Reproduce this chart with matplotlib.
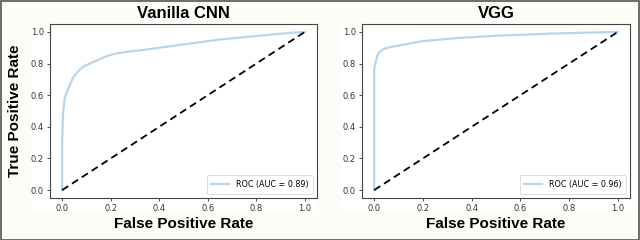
import matplotlib.pyplot as plt
from matplotlib.patches import Rectangle

# ROC points
cnn_fpr = [0.0, 0.0, 0.003, 0.005, 0.012, 0.02, 0.033, 0.045, 0.06, 0.075, 0.087, 0.10, 0.115,
           0.128, 0.145, 0.165, 0.19, 0.22, 0.25, 0.28, 0.33, 0.40, 0.47, 0.57, 0.65, 0.77,
           0.91, 1.0]
cnn_tpr = [0.0, 0.30, 0.45, 0.51, 0.59, 0.62, 0.67, 0.71, 0.74, 0.765, 0.78, 0.79, 0.80,
           0.81, 0.82, 0.835, 0.85, 0.862, 0.87, 0.877, 0.885, 0.90, 0.915, 0.935, 0.952, 0.97,
           0.99, 1.0]
vgg_fpr = [0.0, 0.0, 0.003, 0.008, 0.013, 0.02, 0.035, 0.057, 0.09, 0.125, 0.19, 0.26, 0.33,
           0.49, 0.74, 1.0]
vgg_tpr = [0.0, 0.76, 0.79, 0.82, 0.85, 0.87, 0.89, 0.90, 0.912, 0.92, 0.94, 0.95, 0.96,
           0.975, 0.99, 1.0]

titles = ["Vanilla CNN", "VGG"]
aucs = [0.89, 0.96]
ticks = [0.0, 0.2, 0.4, 0.6, 0.8, 1.0]

plt.rcParams['font.family'] = ['DejaVu Sans']
fig = plt.figure(figsize=(6.4, 2.4), dpi=100, facecolor='#fdfcf7')

# white backgrounds of the two pasted panels and the outer frame
fig.patches.append(Rectangle((32 / 640, 30 / 240), 286 / 640, 187 / 240,
                             transform=fig.transFigure, facecolor='white', edgecolor='none', zorder=-2))
fig.patches.append(Rectangle((342 / 640, 30 / 240), 290 / 640, 187 / 240,
                             transform=fig.transFigure, facecolor='white', edgecolor='none', zorder=-2))
fig.patches.append(Rectangle((0.001, 0.002), 0.997, 0.995, transform=fig.transFigure,
                             facecolor='none', edgecolor='#555555', linewidth=1.2, zorder=5))

ax1 = fig.add_axes([50 / 640, 42 / 240, 267 / 640, 174 / 240])
ax2 = fig.add_axes([362 / 640, 42 / 240, 268 / 640, 174 / 240])

for ax, fpr, tpr, title, auc in zip([ax1, ax2], [cnn_fpr, vgg_fpr], [cnn_tpr, vgg_tpr], titles, aucs):
    ax.set_zorder(2)
    ax.plot(fpr, tpr, color='#b9d5ec', lw=1.6, label=f"ROC (AUC = {auc:.2f})")
    ax.plot([0, 1], [0, 1], color='black', ls='--', lw=1.3, dashes=(4, 2.5))
    ax.set_xlim(-0.05, 1.05)
    ax.set_ylim(-0.05, 1.05)
    ax.set_xticks(ticks)
    ax.set_yticks(ticks)
    ax.tick_params(labelsize=6, colors='#333333', length=2.5, width=0.6, pad=2)
    for s in ax.spines.values():
        s.set_color('#444444')
        s.set_linewidth(0.8)
    ax.set_title(title, fontsize=12, fontweight='bold', family='Liberation Sans', pad=4)
    ax.set_xlabel("False Positive Rate", fontsize=11, fontweight='bold', family='Liberation Sans',
                  labelpad=3)
    leg = ax.legend(loc='lower right', fontsize=5.8, handlelength=2.2, borderpad=0.6,
                    fancybox=True, framealpha=1)
    leg.get_frame().set_linewidth(0.5)

ax1.set_ylabel("True Positive Rate", fontsize=11, fontweight='bold', family='Liberation Sans',
               labelpad=6)

fig.savefig("out.png", dpi=100, facecolor=fig.get_facecolor())
